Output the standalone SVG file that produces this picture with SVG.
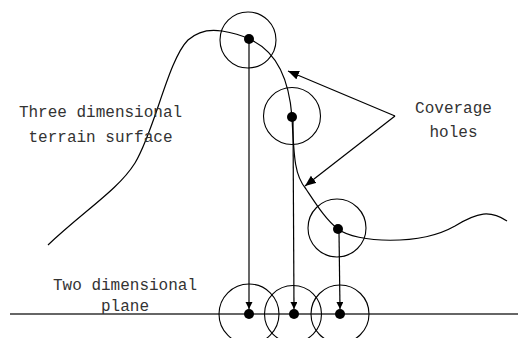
<svg xmlns="http://www.w3.org/2000/svg" width="518" height="338" viewBox="0 0 518 338">
<style>
.ring{fill:none;stroke:#000;stroke-width:1.1}
.dot{fill:#000}
.ln{fill:none;stroke:#000;stroke-width:1.2}
.lbl{font-family:"Liberation Mono","DejaVu Sans Mono",monospace;font-size:16px;fill:#333;text-anchor:middle}
</style>
<defs>
<marker id="sm" markerUnits="userSpaceOnUse" markerWidth="8" markerHeight="8" refX="7" refY="3.5" orient="auto">
<path d="M0,0 L7,3.5 L0,7 Z" fill="#000"/>
</marker>
<marker id="lg" markerUnits="userSpaceOnUse" markerWidth="12" markerHeight="10" refX="11" refY="4.5" orient="auto">
<path d="M0,0 L11,4.5 L0,9 Z" fill="#000"/>
</marker>
</defs>
<g id="plane-line">
<line x1="10" y1="314" x2="518" y2="314" stroke="#333" stroke-width="1.4"/>
</g>
<g id="terrain">
<path class="ln" d="M48,245 C85,210 118,190 135,163 C155,130 168,60 188,40 C198,31 210,29 222,31 C235,33 243,36 249,39 C275,50 289,78 292,117 C294,160 295,176 306,189 C316,204 326,220 338,229 C356,243 420,246 455,226 C478,212 490,210 507,221"/>
</g>
<g id="node-top1"><circle class="ring" cx="248" cy="40" r="28"/><circle class="dot" cx="249" cy="39" r="5"/></g>
<g id="node-top2"><circle class="ring" cx="292" cy="116" r="28.5"/><circle class="dot" cx="292" cy="117" r="5"/></g>
<g id="node-top3"><circle class="ring" cx="337" cy="228" r="29"/><circle class="dot" cx="338" cy="229" r="5"/></g>
<g id="node-bot1"><circle class="ring" cx="249" cy="314" r="30"/><circle class="dot" cx="249" cy="314" r="5"/></g>
<g id="node-bot2"><circle class="ring" cx="293" cy="314" r="28.5"/><circle class="dot" cx="294" cy="314" r="5"/></g>
<g id="node-bot3"><circle class="ring" cx="340" cy="314" r="29"/><circle class="dot" cx="340" cy="314" r="5"/></g>
<g id="connectors">
<line class="ln" x1="249" y1="42" x2="249" y2="309" marker-end="url(#sm)"/>
<line class="ln" x1="293" y1="120" x2="294" y2="309" marker-end="url(#sm)"/>
<line class="ln" x1="339" y1="232" x2="340" y2="309" marker-end="url(#sm)"/>
<line class="ln" x1="395" y1="116" x2="288" y2="71" marker-end="url(#lg)"/>
<line class="ln" x1="395" y1="116" x2="305" y2="186" marker-end="url(#lg)"/>
</g>
<g id="labels">
<text class="lbl" x="100.5" y="117">Three dimensional</text>
<text class="lbl" x="100.5" y="142">terrain surface</text>
<text class="lbl" x="453.5" y="113">Coverage</text>
<text class="lbl" x="453.5" y="137">holes</text>
<text class="lbl" x="125" y="290">Two dimensional</text>
<text class="lbl" x="125" y="311">plane</text>
</g>
</svg>
